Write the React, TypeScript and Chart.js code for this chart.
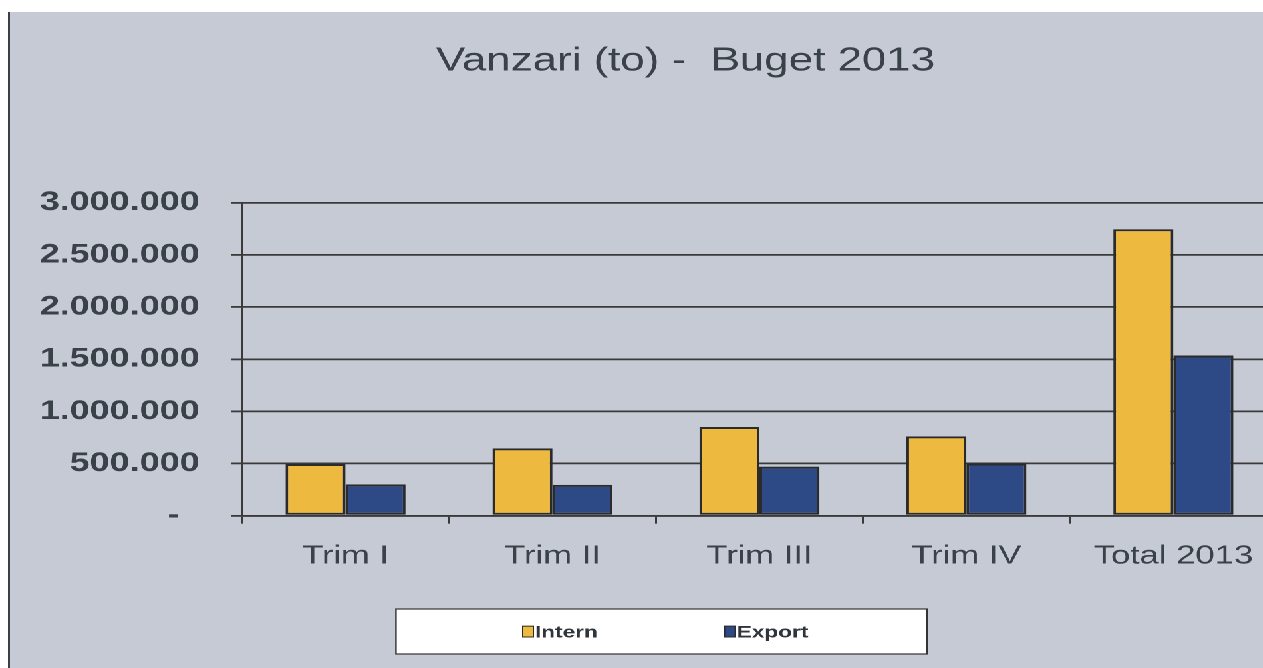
import React, { useEffect, useRef } from 'react';
import { Chart, registerables } from 'chart.js';

Chart.register(...registerables);

const categories = ['Trim I', 'Trim II', 'Trim III', 'Trim IV', 'Total 2013'];
const internValues = [495000, 645000, 850000, 760000, 2745000];
const exportValues = [300000, 295000, 470000, 500000, 1535000];
const yTickLabels = ['-  ', '500.000', '1.000.000', '1.500.000', '2.000.000', '2.500.000', '3.000.000'];
const seriesLabels = ['Intern', 'Export'];
const titleText = 'Vanzari (to) -  Buget 2013';

const FONT = "'Liberation Sans', Arial, sans-serif";
const TEXT = '#3a4148';
const GRID = '#3a3a3a';
const BG = '#c5cad4';
const YELLOW = '#eeb93f';
const BLUE = '#2e4a86';
const EDGE = '#2b2b2b';

const SX = 1.33;
const W = 975;
const H = 656;

const overlayPlugin = {
  id: 'overlayPlugin',
  afterDraw(chart: any) {
    const ctx = chart.ctx as CanvasRenderingContext2D;
    ctx.save();
    // title
    ctx.fillStyle = TEXT;
    ctx.font = `33px ${FONT}`;
    ctx.textAlign = 'center';
    ctx.textBaseline = 'alphabetic';
    ctx.fillText(titleText, 509.4, 58.7);

    // legend box
    const bx = 291.7, by = 597, bw = 399.3, bh = 45;
    ctx.fillStyle = '#ffffff';
    ctx.fillRect(bx, by, bw, bh);
    ctx.strokeStyle = '#333333';
    ctx.lineWidth = 1.2;
    ctx.strokeRect(bx, by, bw, bh);

    const itemX = [386.5, 538.3];
    chart.data.datasets.forEach((ds: any, i: number) => {
      const x = itemX[i];
      ctx.fillStyle = ds.backgroundColor;
      ctx.fillRect(x, 613.7, 9, 11.8);
      ctx.strokeStyle = EDGE;
      ctx.lineWidth = 1;
      ctx.strokeRect(x + 0.5, 614.2, 8, 10.8);
      ctx.fillStyle = '#2f353b';
      ctx.font = `bold 17px ${FONT}`;
      ctx.textAlign = 'left';
      ctx.textBaseline = 'alphabetic';
      ctx.fillText(ds.label, x + 9.7, 625.5);
    });
    ctx.restore();
  },
};

export default function App() {
  const canvasRef = useRef<HTMLCanvasElement | null>(null);

  useEffect(() => {
    if (!canvasRef.current) return;
    const chart = new Chart(canvasRef.current, {
      type: 'bar',
      data: {
        labels: categories,
        datasets: [
          {
            label: seriesLabels[0],
            data: internValues,
            backgroundColor: YELLOW,
            borderColor: EDGE,
            borderWidth: 2,
            borderSkipped: false,
          },
          {
            label: seriesLabels[1],
            data: exportValues,
            backgroundColor: BLUE,
            borderColor: EDGE,
            borderWidth: 2,
            borderSkipped: false,
          },
        ],
      },
      options: {
        responsive: false,
        animation: false,
        devicePixelRatio: 2,
        layout: { padding: { top: 190.7, left: 0, right: 21, bottom: 0 } },
        datasets: {
          bar: { categoryPercentage: 0.58, barPercentage: 1.0 },
        },
        plugins: {
          legend: { display: false },
          title: { display: false },
          tooltip: { enabled: false },
        },
        scales: {
          x: {
            afterFit: (scale: any) => {
              scale.height = 152.3;
            },
            grid: {
              display: true,
              drawOnChartArea: false,
              drawTicks: true,
              tickLength: 8,
              color: GRID,
              lineWidth: 1.5,
              offset: true,
            },
            border: { display: true, color: GRID, width: 1.8 },
            ticks: {
              color: TEXT,
              font: { family: FONT, size: 26 },
              padding: 17,
              maxRotation: 0,
              autoSkip: false,
            },
          },
          y: {
            min: 0,
            max: 3000000,
            afterFit: (scale: any) => {
              scale.width = 176;
            },
            grid: {
              display: true,
              drawTicks: true,
              tickLength: 8,
              color: GRID,
              lineWidth: 1.8,
            },
            border: { display: true, color: GRID, width: 1.5 },
            ticks: {
              stepSize: 500000,
              color: TEXT,
              font: { family: FONT, size: 27, weight: 'bold' },
              padding: 24,
              callback: (_v: any, index: number) => yTickLabels[index],
            },
          },
        },
      },
      plugins: [overlayPlugin],
    });
    return () => chart.destroy();
  }, []);

  return (
    <div
      style={{
        position: 'fixed',
        left: 0,
        top: 0,
        width: 1263,
        height: 668,
        overflow: 'hidden',
        background: '#ffffff',
      }}
    >
      <div
        style={{
          position: 'absolute',
          left: 8,
          top: 12,
          width: W,
          height: H,
          transform: `scaleX(${SX})`,
          transformOrigin: '0 0',
          background: BG,
        }}
      >
        <canvas ref={canvasRef} width={W} height={H} style={{ display: 'block' }} />
      </div>
      <div
        style={{
          position: 'absolute',
          left: 8,
          top: 12,
          width: 2,
          height: 656,
          background: '#3c3f44',
        }}
      />
    </div>
  );
}
